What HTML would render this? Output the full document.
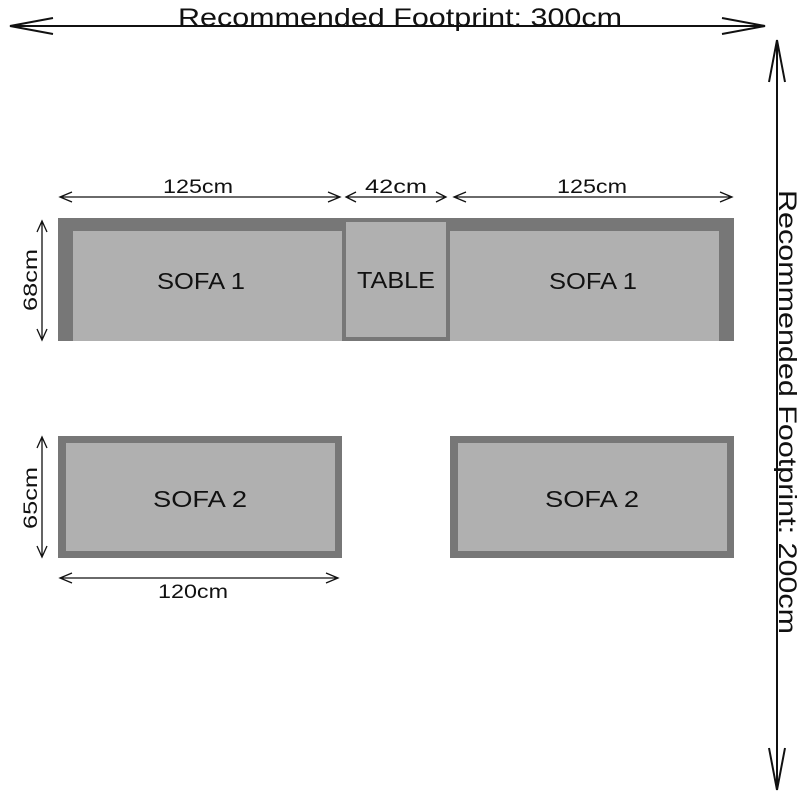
<!DOCTYPE html>
<html><head><meta charset="utf-8"><style>
html,body{margin:0;padding:0;background:#fff;}
body{width:800px;height:800px;overflow:hidden;position:relative;font-family:"Liberation Sans",sans-serif;}
</style></head><body>
<svg width="800" height="800" viewBox="0 0 800 800" xmlns="http://www.w3.org/2000/svg" style="position:absolute;left:0;top:0">
<g fill="#777">
<rect x="58" y="218" width="284" height="123"/>
<rect x="342" y="218" width="108" height="123"/>
<rect x="450" y="218" width="284" height="123"/>
<rect x="58" y="436" width="284" height="122"/>
<rect x="450" y="436" width="284" height="122"/>
</g>
<g fill="#b0b0b0">
<rect x="73" y="231" width="269" height="110"/>
<rect x="346" y="222" width="100" height="115"/>
<rect x="450" y="231" width="269" height="110"/>
<rect x="66" y="443" width="269" height="108"/>
<rect x="458" y="443" width="269" height="108"/>
</g>
<g font-family="Liberation Sans, sans-serif" fill="#111" text-anchor="middle" lengthAdjust="spacingAndGlyphs">
<text x="201" y="289" font-size="23" textLength="88" lengthAdjust="spacingAndGlyphs">SOFA 1</text>
<text x="396" y="288" font-size="23" textLength="78" lengthAdjust="spacingAndGlyphs">TABLE</text>
<text x="593" y="289" font-size="23" textLength="88" lengthAdjust="spacingAndGlyphs">SOFA 1</text>
<text x="200" y="507" font-size="23" textLength="94" lengthAdjust="spacingAndGlyphs">SOFA 2</text>
<text x="592" y="507" font-size="23" textLength="94" lengthAdjust="spacingAndGlyphs">SOFA 2</text>
<text x="198" y="193" font-size="19" textLength="70" lengthAdjust="spacingAndGlyphs">125cm</text>
<text x="396" y="193" font-size="19" textLength="62" lengthAdjust="spacingAndGlyphs">42cm</text>
<text x="592" y="193" font-size="19" textLength="70" lengthAdjust="spacingAndGlyphs">125cm</text>
<text x="193" y="598" font-size="19" textLength="70" lengthAdjust="spacingAndGlyphs">120cm</text>
<text x="400" y="26" font-size="25" textLength="444" lengthAdjust="spacingAndGlyphs">Recommended Footprint: 300cm</text>
<text transform="translate(37,280) rotate(-90)" font-size="19" textLength="62" lengthAdjust="spacingAndGlyphs">68cm</text>
<text transform="translate(37,498) rotate(-90)" font-size="19" textLength="62" lengthAdjust="spacingAndGlyphs">65cm</text>
<text transform="translate(779,412) rotate(90)" font-size="25" textLength="444" lengthAdjust="spacingAndGlyphs">Recommended Footprint: 200cm</text>
</g>
<g stroke="#111" stroke-width="1.3" fill="none">
<path d="M60 197H340M72 192L60 197L72 202M328 192L340 197L328 202"/>
<path d="M346 197H446M356 192L346 197L356 202M436 192L446 197L436 202"/>
<path d="M454 197H732M466 192L454 197L466 202M720 192L732 197L720 202"/>
<path d="M60 578H338M72 573L60 578L72 583M326 573L338 578L326 583"/>
<path d="M42 221V340M37 232L42 221L47 232M37 329L42 340L47 329"/>
<path d="M42 437V557M37 448L42 437L47 448M37 546L42 557L47 546"/>
</g>
<g stroke="#111" stroke-width="2" fill="none">
<path d="M10 26H765M53 18L10 26L53 34M722 18L765 26L722 34"/>
<path d="M777 40V790M769 82L777 40L785 82M769 748L777 790L785 748"/>
</g>
</svg>
</body></html>
